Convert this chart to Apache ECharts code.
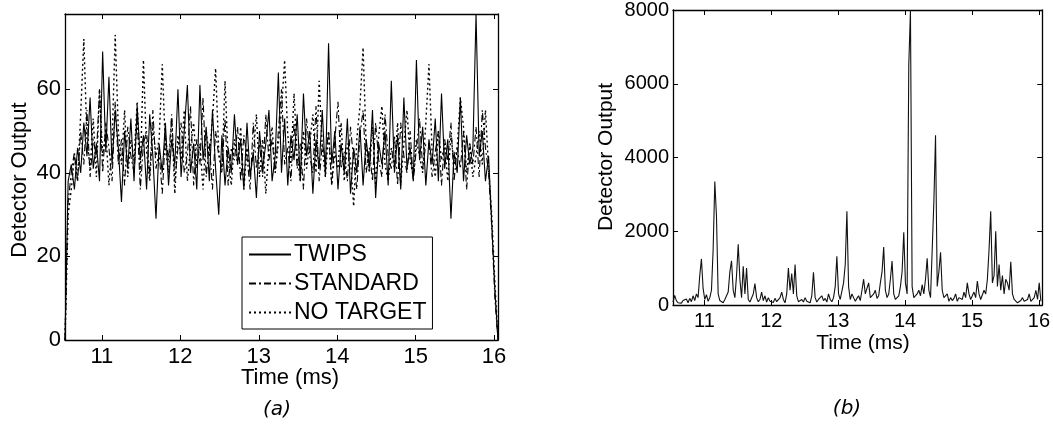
<!DOCTYPE html>
<html>
<head>
<meta charset="utf-8">
<script src="https://cdn.jsdelivr.net/npm/echarts@6/dist/echarts.min.js"></script>
<style>html,body{margin:0;padding:0;background:#fff}#c{width:1053px;height:427px}</style>
</head>
<body>
<div id="c"></div>
<script>
// ---- data (time grid: start T0, sampling step per panel) ----
const T0 = 10.53;
const DT_A = 0.04;
const DT_B = 0.025;
const xTickLabels = [11, 12, 13, 14, 15, 16];
const yTicksA = [0, 20, 40, 60];
const yTicksB = [0, 2000, 4000, 6000, 8000];
const legendNames = ['TWIPS', 'STANDARD', 'NO TARGET'];

const twips = [0,38,42,36,46,40,52,44,58,41,47,38,69,45,63,42,55,46,33,50,
  41,53,38,56,43,49,36,54,44,29,47,40,52,37,48,42,60,39,50,61,
  40,47,36,61,43,51,38,55,41,30,49,37,46,40,54,42,48,36,52,39,
  45,34,50,41,47,55,38,44,64,40,53,37,49,43,54,38,59,44,50,35,
  48,41,55,39,71,42,50,36,47,40,53,35,46,40,51,37,48,41,55,34,
  47,42,50,37,62,40,49,36,58,41,46,38,67,43,51,37,48,42,53,38,
  59,41,48,29,45,40,58,38,49,42,46,78,44,50,38,44,28,12,0];

const standard = [0,33,40,45,38,50,42,55,39,48,44,60,40,52,46,38,57,42,48,37,
  51,44,40,53,36,47,50,39,55,41,45,35,49,43,54,38,46,52,40,44,
  56,37,48,42,58,39,47,36,50,44,41,53,37,46,43,51,38,49,44,36,
  52,41,47,39,54,43,48,40,50,60,42,46,38,52,41,47,36,53,44,40,
  56,38,47,43,50,37,48,57,41,45,38,51,43,36,49,55,40,46,38,52,
  43,39,54,44,41,49,37,52,44,40,50,38,46,53,41,47,47,39,45,50,
  37,48,43,52,38,46,41,50,36,47,42,51,39,55,46,40,27,10,0];

const noTarget = [0,30,36,44,38,54,72,48,41,53,39,60,44,50,37,47,73,50,42,55,
  39,48,43,57,40,67,45,38,51,44,48,66,46,40,53,35,49,43,55,38,
  46,52,41,47,36,50,44,53,65,45,40,62,43,37,48,42,51,36,46,40,
  44,54,39,48,35,46,51,40,47,55,67,49,42,59,44,38,50,41,47,54,
  40,62,46,39,50,37,45,41,52,38,47,43,32,48,56,70,46,40,51,37,
  49,56,42,38,46,41,52,37,47,55,43,39,48,44,40,52,66,45,39,50,
  43,47,38,49,42,46,58,51,40,47,39,44,50,42,55,41,30,14,0];

const detectorB = [80,260,120,60,100,50,120,70,160,60,
  180,90,250,120,300,200,800,1250,450,150,
  280,100,200,400,1500,3350,2400,300,120,90,
  60,150,100,350,900,1200,400,200,800,1650,
  700,200,1050,300,1000,150,80,120,300,580,
  200,90,150,350,120,250,80,200,100,150,
  70,180,90,120,200,350,150,60,300,1000,
  400,850,300,1100,250,90,60,150,80,200,
  100,130,60,250,890,200,80,150,100,250,
  120,180,80,300,150,90,200,500,1320,300,
  150,200,600,1100,2540,500,150,300,200,100,
  180,250,120,400,700,300,450,600,200,150,
  300,400,180,250,600,900,1570,400,200,300,
  700,1190,300,150,100,250,500,900,1970,600,
  300,6500,8000,500,200,150,300,400,250,550,
  300,700,1270,400,200,150,2800,4600,500,900,
  1430,400,200,150,300,100,200,120,180,300,
  100,200,250,150,350,200,600,300,150,250,
  350,200,650,300,150,200,400,300,700,1500,
  2540,600,800,2000,500,1100,400,800,300,700,
  600,400,1170,300,150,100,60,80,120,200,
  100,60,150,300,100,80,200,400,150,600,
  100];

function pairs(arr, dt) {
  return arr.map((v, i) => [+(T0 + i * dt).toFixed(4), v]);
}

const FONT = 'Liberation Sans';
const black = '#000';
const plain = v => String(v);

function xAx(gi, pos, showLabel, fs) {
  return {
    type: 'value', gridIndex: gi, position: pos, min: 10.53, max: 16.05,
    axisLine: {show: true, onZero: false, lineStyle: {color: black, width: 1.3}},
    axisTick: {show: true, inside: true, length: 5, customValues: xTickLabels, lineStyle: {color: black}},
    axisLabel: {show: showLabel, customValues: xTickLabels, formatter: plain, color: black, fontFamily: FONT, fontSize: fs, margin: 6},
    splitLine: {show: false}
  };
}
function yAx(gi, pos, showLabel, fs, max, ticks) {
  return {
    type: 'value', gridIndex: gi, position: pos, min: 0, max: max,
    axisLine: {show: true, onZero: false, lineStyle: {color: black, width: 1.3}},
    axisTick: {show: true, inside: true, length: 5, customValues: ticks, lineStyle: {color: black}},
    axisLabel: {show: showLabel, customValues: ticks, formatter: plain, color: black, fontFamily: FONT, fontSize: fs, margin: 4},
    splitLine: {show: false}
  };
}

const chart = echarts.init(document.getElementById('c'), null, {renderer: 'canvas'});
chart.setOption({
  animation: false,
  backgroundColor: '#fff',
  grid: [
    {left: 65, top: 14, width: 433, height: 326},
    {left: 673, top: 9, width: 375, height: 296}
  ],
  xAxis: [
    xAx(0, 'bottom', true, 22),
    xAx(0, 'top', false, 22),
    xAx(1, 'bottom', true, 20),
    xAx(1, 'top', false, 20)
  ],
  yAxis: [
    yAx(0, 'left', true, 22, 78, yTicksA),
    yAx(0, 'right', false, 22, 78, yTicksA),
    yAx(1, 'left', true, 20, 8000, yTicksB),
    yAx(1, 'right', false, 20, 8000, yTicksB)
  ],
  legend: {
    data: legendNames,
    orient: 'vertical',
    left: 242, top: 237,
    padding: [6, 6, 5, 6],
    itemGap: 6,
    itemWidth: 42,
    itemHeight: 10,
    borderColor: black,
    borderWidth: 1,
    backgroundColor: '#fff',
    itemStyle: {opacity: 0},
    textStyle: {color: black, fontFamily: FONT, fontSize: 23, padding: [0, 0, 0, -2]}
  },
  series: [
    {name: legendNames[0], type: 'line', xAxisIndex: 0, yAxisIndex: 0, data: pairs(twips, DT_A),
     showSymbol: false, symbol: 'none', lineStyle: {color: black, width: 1.1, type: 'solid'}, itemStyle: {color: black}, z: 5},
    {name: legendNames[1], type: 'line', xAxisIndex: 0, yAxisIndex: 0, data: pairs(standard, DT_A),
     showSymbol: false, symbol: 'none', lineStyle: {color: black, width: 1.1, type: [7, 3, 2, 3]}, itemStyle: {color: black}, z: 4},
    {name: legendNames[2], type: 'line', xAxisIndex: 0, yAxisIndex: 0, data: pairs(noTarget, DT_A),
     showSymbol: false, symbol: 'none', lineStyle: {color: black, width: 1.4, type: [2, 3]}, itemStyle: {color: black}, z: 3},
    {name: 'B', type: 'line', xAxisIndex: 2, yAxisIndex: 2, data: pairs(detectorB, DT_B),
     showSymbol: false, symbol: 'none', lineStyle: {color: '#111', width: 1.1}, itemStyle: {color: '#111'}}
  ],
  graphic: [
    {type: 'text', x: 20, y: 180, rotation: Math.PI / 2, style: {text: 'Detector Output', font: '22px "Liberation Sans"', fill: black, align: 'center', verticalAlign: 'middle'}},
    {type: 'text', x: 290, y: 378, style: {text: 'Time (ms)', font: '22px "Liberation Sans"', fill: black, align: 'center', verticalAlign: 'middle'}},
    {type: 'text', x: 277, y: 410, style: {text: '(a)', font: 'italic 20px "DejaVu Sans"', fill: black, align: 'center', verticalAlign: 'middle'}},
    {type: 'text', x: 606, y: 157, rotation: Math.PI / 2, style: {text: 'Detector Output', font: '21px "Liberation Sans"', fill: black, align: 'center', verticalAlign: 'middle'}},
    {type: 'text', x: 863, y: 343, style: {text: 'Time (ms)', font: '21px "Liberation Sans"', fill: black, align: 'center', verticalAlign: 'middle'}},
    {type: 'text', x: 847, y: 409, style: {text: '(b)', font: 'italic 20px "DejaVu Sans"', fill: black, align: 'center', verticalAlign: 'middle'}}
  ]
});
</script>
</body>
</html>
